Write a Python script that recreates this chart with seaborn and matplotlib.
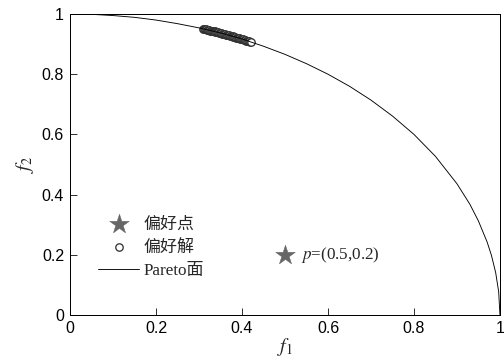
import matplotlib
matplotlib.use("Agg")
import matplotlib.pyplot as plt
import pandas as pd
import seaborn as sns

# Pareto front
front_f1 = [0.0, 0.05, 0.1, 0.15, 0.2, 0.25, 0.3, 0.35, 0.4, 0.45, 0.5, 0.55, 0.6,
            0.65, 0.7, 0.75, 0.8, 0.85, 0.9, 0.93, 0.95, 0.97, 0.98, 0.99, 0.997, 1.0]
front_f2 = [1.0, 0.999, 0.995, 0.989, 0.98, 0.968, 0.954, 0.937, 0.917, 0.893, 0.866,
            0.835, 0.8, 0.76, 0.714, 0.661, 0.6, 0.527, 0.436, 0.368, 0.312, 0.243,
            0.199, 0.141, 0.077, 0.0]

# preference solutions (dense cluster on the front)
sol_f1 = [0.310, 0.312, 0.314, 0.316, 0.318, 0.320, 0.322, 0.324, 0.326, 0.328,
          0.330, 0.332, 0.334, 0.336, 0.338, 0.340, 0.342, 0.344, 0.346, 0.348,
          0.350, 0.352, 0.354, 0.356, 0.358, 0.360, 0.362, 0.364, 0.366, 0.368,
          0.370, 0.372, 0.374, 0.376, 0.378, 0.380, 0.382, 0.384, 0.386, 0.388,
          0.390, 0.392, 0.394, 0.396, 0.398, 0.400, 0.402, 0.404, 0.406, 0.408,
          0.410, 0.412, 0.414, 0.416, 0.418, 0.420]
sol_f2 = [0.951, 0.950, 0.949, 0.949, 0.948, 0.947, 0.947, 0.946, 0.945, 0.945,
          0.944, 0.943, 0.942, 0.942, 0.941, 0.940, 0.940, 0.939, 0.938, 0.937,
          0.937, 0.936, 0.935, 0.934, 0.934, 0.933, 0.932, 0.931, 0.931, 0.930,
          0.929, 0.928, 0.927, 0.927, 0.926, 0.925, 0.924, 0.923, 0.922, 0.922,
          0.921, 0.920, 0.919, 0.918, 0.917, 0.917, 0.916, 0.915, 0.914, 0.913,
          0.912, 0.911, 0.910, 0.909, 0.908, 0.907]

# reference (preference) point
pref_f1 = [0.5]
pref_f2 = [0.2]

sns.set_style("white")
plt.rcParams["font.family"] = ["Liberation Sans", "Noto Sans CJK SC"]
plt.rcParams["mathtext.fontset"] = "stix"

fig = plt.figure(figsize=(7, 5), dpi=72)
ax = fig.add_axes([0.139, 0.125, 0.853, 0.836])

front = pd.DataFrame({"f1": front_f1, "f2": front_f2})
sols = pd.DataFrame({"f1": sol_f1, "f2": sol_f2})
pref = pd.DataFrame({"f1": pref_f1, "f2": pref_f2})

sns.scatterplot(data=pref, x="f1", y="f2", ax=ax, marker="*", s=420, color="#666666",
                edgecolor="#666666", linewidth=0.5, label="偏好点", zorder=3)
sns.scatterplot(data=sols, x="f1", y="f2", ax=ax, marker="o", s=55, facecolor="white",
                edgecolor="#333333", linewidth=1.3, label="偏好解", zorder=3)
sns.lineplot(data=front, x="f1", y="f2", ax=ax, sort=False, color="black",
             linewidth=0.9, label="Pareto面", zorder=4)

ax.text(0.538, 0.2, "$p$=(0.5,0.2)", fontsize=17, va="center", ha="left",
        family=["Liberation Serif"])

ax.set_xlim(0, 1)
ax.set_ylim(0, 1)
ticks = [0, 0.2, 0.4, 0.6, 0.8, 1]
labels = ["0", "0.2", "0.4", "0.6", "0.8", "1"]
ax.set_xticks(ticks)
ax.set_xticklabels(labels)
ax.set_yticks(ticks)
ax.set_yticklabels(labels)
ax.tick_params(direction="in", length=7, width=0.8, labelsize=16, colors="black",
               bottom=True, left=True, top=False, right=False, pad=6)
for sp in ax.spines.values():
    sp.set_color("black")
    sp.set_linewidth(1.0)

ax.set_xlabel("$f_1$", fontsize=20, labelpad=0)
ax.set_ylabel("$f_2$", fontsize=20, labelpad=6)

leg = ax.legend(loc="upper left", bbox_to_anchor=(0.05, 0.35), frameon=False,
                prop={"family": ["Liberation Serif", "Noto Sans CJK SC"], "size": 17},
                handlelength=2.4, handletextpad=0.25, labelspacing=0.42, borderaxespad=0)

fig.savefig("out.png", dpi=72)
